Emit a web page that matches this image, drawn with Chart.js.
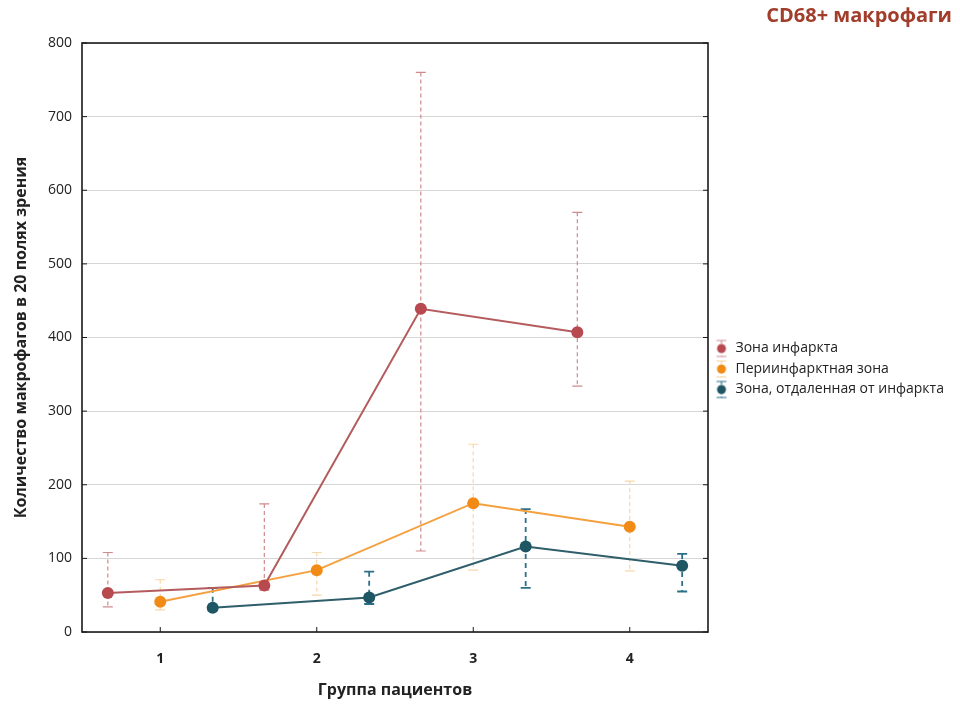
<!DOCTYPE html>
<html>
<head>
<meta charset="utf-8">
<script src="https://cdn.jsdelivr.net/npm/chart.js@4.4.1/dist/chart.umd.min.js"></script>
<style>
  html, body { margin: 0; padding: 0; background: #fff; }
  #wrap { width: 960px; height: 706px; }
</style>
</head>
<body>
<div id="wrap"><canvas id="chart" width="960" height="706"></canvas></div>
<script>
// Data
const groups = [1, 2, 3, 4];
const xTicks = [1, 2, 3, 4];
const yTicks = [0, 100, 200, 300, 400, 500, 600, 700, 800];

const seriesNames = ["Зона инфаркта", "Периинфарктная зона", "Зона, отдаленная от инфаркта"];

const infarctMean = [53, 63, 439, 407];
const infarctLow = [34, 57, 110, 334];
const infarctHigh = [108, 174, 760, 570];

const periMean = [41, 84, 175, 143];
const periLow = [30, 50, 84, 83];
const periHigh = [71, 108, 255, 205];

const remoteMean = [33, 47, 116, 90];
const remoteLow = [29, 38, 60, 55];
const remoteHigh = [60, 82, 167, 106];

// groups are dodged left / right so the bars do not overlap
const dodge = 0.335;
const font = "'Open Sans', 'DejaVu Sans', sans-serif";

function toPoints(values, shift) {
  return values.map((v, i) => ({ x: groups[i] + shift, y: v }));
}

// small legend icon: dashed error bar with a dot
function legendIcon(dot, bar, dash) {
  const c = document.createElement("canvas");
  c.width = 16;
  c.height = 20;
  const g = c.getContext("2d");
  g.strokeStyle = bar;
  g.lineWidth = 1.2;
  g.setLineDash(dash);
  g.beginPath();
  g.moveTo(8, 2);
  g.lineTo(8, 18);
  g.stroke();
  g.setLineDash([]);
  g.beginPath();
  g.moveTo(3, 2); g.lineTo(13, 2);
  g.moveTo(3, 18); g.lineTo(13, 18);
  g.stroke();
  g.fillStyle = dot;
  g.beginPath();
  g.arc(8, 10, 4.5, 0, Math.PI * 2);
  g.fill();
  return c;
}

const legendIcons = [
  legendIcon("#b84a4f", "#d09092", [3, 2]),
  legendIcon("#f28a16", "#f6d3a0", [3, 2]),
  legendIcon("#1f5663", "#2b7390", [3, 2]),
];

// error bars, drawn under the lines
const errorBars = {
  id: "errorBars",
  beforeDatasetsDraw(chart) {
    const ctx = chart.ctx;
    const y = chart.scales.y;
    chart.data.datasets.forEach((ds, i) => {
      const meta = chart.getDatasetMeta(i);
      ctx.save();
      ctx.strokeStyle = ds.errColor;
      ctx.lineWidth = ds.errWidth;
      meta.data.forEach((pt, j) => {
        const top = y.getPixelForValue(ds.errHigh[j]);
        const bot = y.getPixelForValue(ds.errLow[j]);
        ctx.setLineDash(ds.errDash);
        ctx.beginPath();
        ctx.moveTo(pt.x, top);
        ctx.lineTo(pt.x, bot);
        ctx.stroke();
        ctx.setLineDash([]);
        ctx.beginPath();
        ctx.moveTo(pt.x - 5, top); ctx.lineTo(pt.x + 5, top);
        ctx.moveTo(pt.x - 5, bot); ctx.lineTo(pt.x + 5, bot);
        ctx.stroke();
      });
      ctx.restore();
    });
  },
};

// frame around the plot with inward ticks
const frame = {
  id: "frame",
  afterDatasetsDraw(chart) {
    const { ctx, chartArea: a, scales } = chart;
    ctx.save();
    ctx.strokeStyle = "#1a1a1a";
    ctx.lineWidth = 1;
    scales.y.ticks.forEach(t => {
      const py = scales.y.getPixelForValue(t.value);
      ctx.beginPath();
      ctx.moveTo(a.left, py); ctx.lineTo(a.left + 5, py);
      ctx.moveTo(a.right, py); ctx.lineTo(a.right - 5, py);
      ctx.stroke();
    });
    scales.x.ticks.forEach(t => {
      const px = scales.x.getPixelForValue(t.value);
      ctx.beginPath();
      ctx.moveTo(px, a.bottom); ctx.lineTo(px, a.bottom - 5);
      ctx.stroke();
    });
    ctx.lineWidth = 1.6;
    ctx.strokeRect(a.left, a.top, a.right - a.left, a.bottom - a.top);
    ctx.restore();
  },
};

// fixed legend width and a small downward shift
const legendPlace = {
  id: "legendPlace",
  beforeUpdate(chart) {
    const lg = chart.legend;
    if (lg && !lg._fixed) {
      const fit = lg.fit;
      lg.fit = function () {
        fit.call(this);
        this.width = 244;
      };
      lg._fixed = true;
    }
  },
  afterLayout(chart) {
    chart.legend.top += 16;
    chart.legend.bottom += 16;
  },
};

const ctx = document.getElementById("chart").getContext("2d");
const chart = new Chart(ctx, {
  type: "line",
  data: {
    datasets: [
      {
        label: seriesNames[0],
        data: toPoints(infarctMean, -dodge),
        borderColor: "#b45b5e",
        backgroundColor: "#b84a4f",
        pointBackgroundColor: "#b84a4f",
        pointBorderColor: "#b84a4f",
        errLow: infarctLow,
        errHigh: infarctHigh,
        errColor: "#cf8a8c",
        errWidth: 1.2,
        errDash: [4, 3],
      },
      {
        label: seriesNames[1],
        data: toPoints(periMean, 0),
        borderColor: "#f4a03e",
        backgroundColor: "#f28a16",
        pointBackgroundColor: "#f28a16",
        pointBorderColor: "#f28a16",
        errLow: periLow,
        errHigh: periHigh,
        errColor: "#f7d7a8",
        errWidth: 1.2,
        errDash: [4, 3],
      },
      {
        label: seriesNames[2],
        data: toPoints(remoteMean, dodge),
        borderColor: "#2e5e6a",
        backgroundColor: "#1f5663",
        pointBackgroundColor: "#1f5663",
        pointBorderColor: "#1f5663",
        errLow: remoteLow,
        errHigh: remoteHigh,
        errColor: "#2b6f88",
        errWidth: 1.8,
        errDash: [5, 4],
      },
    ],
  },
  options: {
    responsive: false,
    animation: false,
    devicePixelRatio: 1,
    elements: {
      line: { borderWidth: 2, tension: 0 },
      point: { radius: 6, hoverRadius: 6, borderWidth: 0 },
    },
    layout: { padding: { left: 0, right: 8, top: 0, bottom: 0 } },
    plugins: {
      title: {
        display: true,
        text: "CD68+ макрофаги",
        align: "end",
        color: "#a23d2c",
        font: { family: font, size: 20, weight: "bold" },
        padding: { top: 4, bottom: 15 },
      },
      legend: {
        position: "right",
        align: "center",
        labels: {
          usePointStyle: true,
          pointStyleWidth: 14,
          color: "#222",
          padding: 6.5,
          font: { family: font, size: 14 },
          generateLabels(chart) {
            const items = Chart.defaults.plugins.legend.labels.generateLabels(chart);
            items.forEach((it, i) => { it.pointStyle = legendIcons[i]; });
            return items;
          },
        },
      },
      tooltip: { enabled: false },
    },
    scales: {
      x: {
        type: "linear",
        min: 0.5,
        max: 4.5,
        afterBuildTicks: s => { s.ticks = xTicks.map(v => ({ value: v })); },
        afterFit: s => { s.height = 74; },
        grid: { display: false, drawTicks: false },
        border: { display: false },
        ticks: {
          padding: 19,
          color: "#222",
          font: { family: font, size: 14, weight: "bold" },
        },
        title: {
          display: true,
          text: "Группа пациентов",
          color: "#222",
          font: { family: font, size: 16, weight: "bold" },
          padding: { top: 0, bottom: 6 },
        },
      },
      y: {
        min: 0,
        max: 800,
        afterBuildTicks: s => { s.ticks = yTicks.map(v => ({ value: v })); },
        afterFit: s => { s.width = 82; },
        grid: { color: "#d6d6d6", drawTicks: false },
        border: { display: false },
        ticks: {
          padding: 10,
          color: "#222",
          font: { family: font, size: 14 },
        },
        title: {
          display: true,
          text: "Количество макрофагов в 20 полях зрения",
          color: "#222",
          font: { family: font, size: 16, weight: "bold" },
          padding: { top: 12, bottom: 0 },
        },
      },
    },
  },
  plugins: [errorBars, frame, legendPlace],
});
</script>
</body>
</html>
